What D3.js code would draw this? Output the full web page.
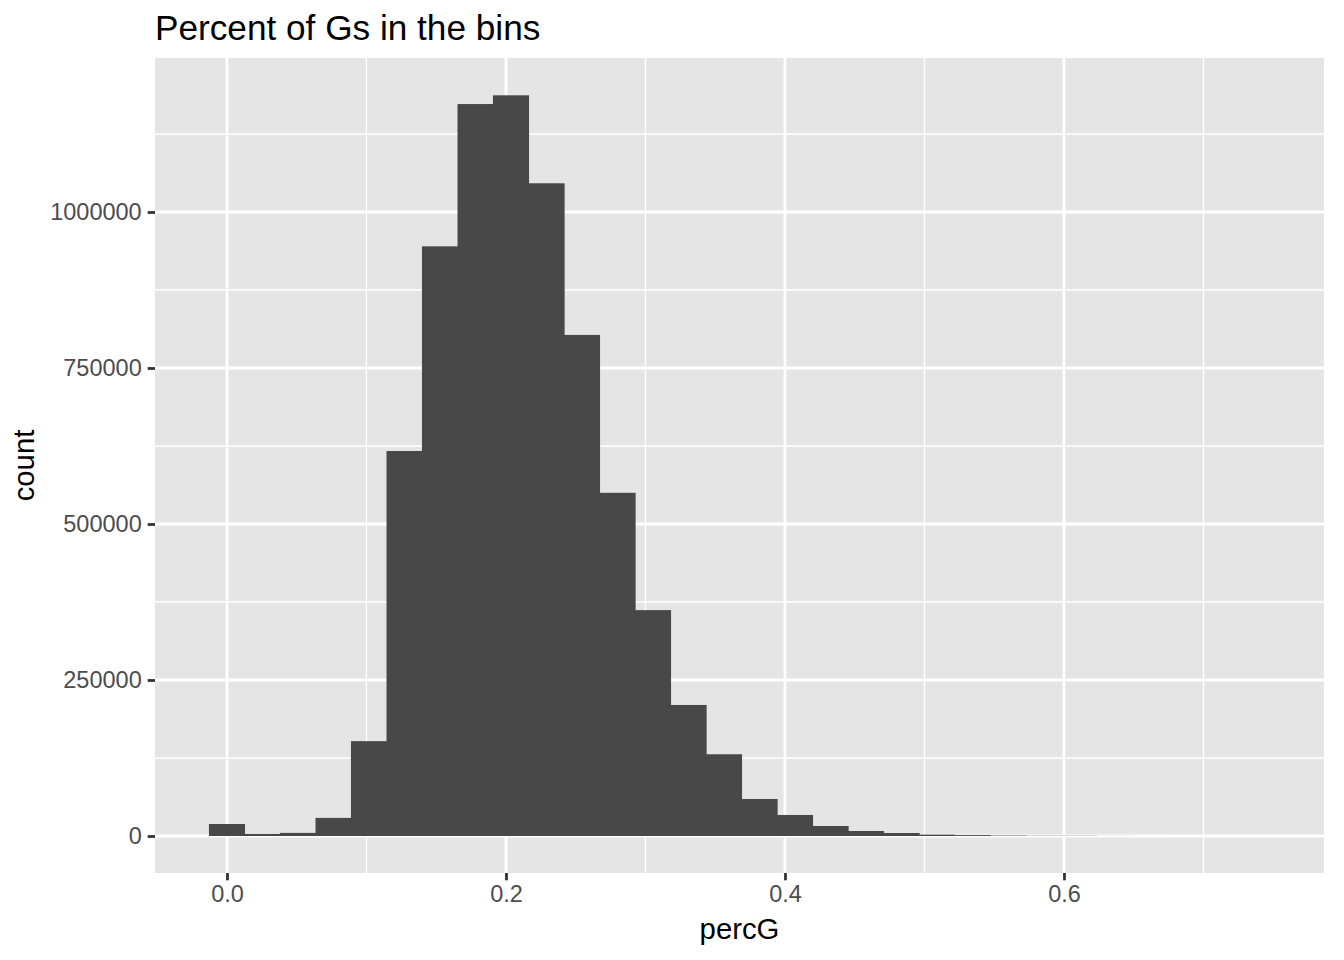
<!DOCTYPE html>
<html>
<head>
<meta charset="utf-8">
<script src="https://cdn.jsdelivr.net/npm/d3@7"></script>
<style>
  html, body { margin: 0; padding: 0; background: #ffffff; }
  svg { display: block; font-family: "Liberation Sans", Arial, Helvetica, sans-serif; }
</style>
</head>
<body>
<svg id="chart" width="1344" height="960"></svg>
<script>
// ---- data ----
const binWidth = 0.02545;
const binCenters = [0, 0.0255, 0.0509, 0.0764, 0.1018, 0.1273, 0.1527, 0.1782, 0.2036, 0.2291,
                    0.2545, 0.28, 0.3054, 0.3309, 0.3563, 0.3818, 0.4072, 0.4327, 0.4581, 0.4836,
                    0.509, 0.5345, 0.5599, 0.5854, 0.6108, 0.6363, 0.6617, 0.6872, 0.7126, 0.7381];
const counts = [19200, 3200, 5000, 29000, 152000, 617000, 945000, 1173000, 1187000, 1046000,
                803000, 550000, 362000, 210000, 131000, 59300, 33700, 16000, 8000, 4800,
                2200, 1500, 700, 350, 300, 100, 40, 20, 10, 5];
const xTicks = [0.0, 0.2, 0.4, 0.6];
const xTickLabels = ["0.0", "0.2", "0.4", "0.6"];
const xMinor = [0.1, 0.3, 0.5, 0.7];
const yTicks = [0, 250000, 500000, 750000, 1000000];
const yTickLabels = ["0", "250000", "500000", "750000", "1000000"];
const yMinor = [125000, 375000, 625000, 875000, 1125000];
const titleText = "Percent of Gs in the bins";
const xTitle = "percG";
const yTitle = "count";

// ---- layout ----
const panel = { left: 155, right: 1324, top: 58, bottom: 873 };
const svg = d3.select("#chart");

const x = d3.scaleLinear().domain([-0.0516, 0.7864]).range([panel.left, panel.right]);
const y = d3.scaleLinear().domain([-59300, 1246800]).range([panel.bottom, panel.top]);

// panel background
svg.append("rect")
  .attr("x", panel.left).attr("y", panel.top)
  .attr("width", panel.right - panel.left).attr("height", panel.bottom - panel.top)
  .attr("fill", "#E5E5E5");

const grid = svg.append("g");
// minor grid
grid.selectAll("line.xminor").data(xMinor).join("line")
  .attr("x1", d => x(d)).attr("x2", d => x(d))
  .attr("y1", panel.top).attr("y2", panel.bottom)
  .attr("stroke", "#ffffff").attr("stroke-width", 1.4);
grid.selectAll("line.yminor").data(yMinor).join("line")
  .attr("y1", d => y(d)).attr("y2", d => y(d))
  .attr("x1", panel.left).attr("x2", panel.right)
  .attr("stroke", "#ffffff").attr("stroke-width", 1.4);
// major grid
grid.selectAll("line.xmajor").data(xTicks).join("line")
  .attr("x1", d => x(d)).attr("x2", d => x(d))
  .attr("y1", panel.top).attr("y2", panel.bottom)
  .attr("stroke", "#ffffff").attr("stroke-width", 2.8);
grid.selectAll("line.ymajor").data(yTicks).join("line")
  .attr("y1", d => y(d)).attr("y2", d => y(d))
  .attr("x1", panel.left).attr("x2", panel.right)
  .attr("stroke", "#ffffff").attr("stroke-width", 2.8);

// bars (slight overlap to avoid anti-aliasing seams between adjacent bins)
svg.append("g").selectAll("rect").data(binCenters).join("rect")
  .attr("x", d => x(d - binWidth / 2) - 0.3)
  .attr("width", d => x(d + binWidth / 2) - x(d - binWidth / 2) + 0.6)
  .attr("y", (d, i) => y(counts[i]))
  .attr("height", (d, i) => y(0) - y(counts[i]))
  .attr("fill", "#484848");

// axes
const xAxis = d3.axisBottom(x).tickValues(xTicks)
  .tickFormat((d, i) => xTickLabels[i]).tickSizeInner(7.3).tickSizeOuter(0).tickPadding(5.5);
const gx = svg.append("g").attr("transform", `translate(0,${panel.bottom})`).call(xAxis);
gx.select(".domain").remove();
gx.selectAll(".tick line").attr("stroke", "#333333").attr("stroke-width", 2.8);
gx.selectAll(".tick text").attr("fill", "#4D4D4D").attr("font-size", 23.5)
  .attr("font-family", "Liberation Sans, Arial, sans-serif");

const yAxis = d3.axisLeft(y).tickValues(yTicks)
  .tickFormat((d, i) => yTickLabels[i]).tickSizeInner(7.3).tickSizeOuter(0).tickPadding(6);
const gy = svg.append("g").attr("transform", `translate(${panel.left},0)`).call(yAxis);
gy.select(".domain").remove();
gy.selectAll(".tick line").attr("stroke", "#333333").attr("stroke-width", 2.8);
gy.selectAll(".tick text").attr("fill", "#4D4D4D").attr("font-size", 23.5)
  .attr("font-family", "Liberation Sans, Arial, sans-serif");

// titles
svg.append("text").attr("x", panel.left).attr("y", 40)
  .attr("font-size", 35.2).attr("fill", "#000").text(titleText);
svg.append("text").attr("x", (panel.left + panel.right) / 2).attr("y", 938.5)
  .attr("text-anchor", "middle").attr("font-size", 29.3).attr("fill", "#000").text(xTitle);
svg.append("text")
  .attr("transform", `translate(33.5,${(panel.top + panel.bottom) / 2}) rotate(-90)`)
  .attr("text-anchor", "middle").attr("font-size", 29.3).attr("fill", "#000").text(yTitle);
</script>
</body>
</html>
